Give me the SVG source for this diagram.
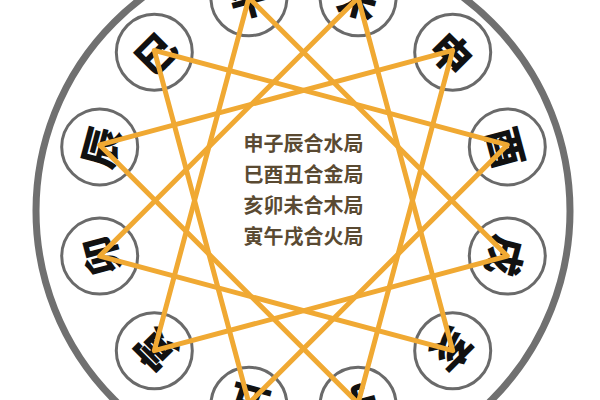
<svg xmlns="http://www.w3.org/2000/svg" width="600" height="400" viewBox="0 0 600 400">
  <style>
    .ring { fill: #ffffff; stroke: #707070; stroke-width: 7; }
    .node circle { fill: #ffffff; stroke: #6a6a6a; stroke-width: 3; }
    .node text { font-family: "Noto Sans CJK SC", "Noto Sans CJK TC", sans-serif; font-size: 40px; font-weight: 900; fill: #111111; text-anchor: middle; dominant-baseline: central; }
    .link { fill: none; stroke: #F0A933; stroke-width: 5; stroke-linejoin: round; stroke-linecap: round; }
    .legend text { font-family: "Noto Sans CJK SC", "Noto Sans CJK TC", sans-serif; font-size: 20px; font-weight: 700; fill: #5a4a32; text-anchor: middle; }
  </style>
  <rect width="600" height="400" fill="#ffffff"/>
  <circle class="ring" cx="303" cy="211" r="267"/>

  <g id="node-si" class="node"><circle cx="154.3" cy="52.3" r="38"/><text transform="translate(154.3 52.3) rotate(-45)">巳</text></g>
  <g id="node-wu" class="node"><circle cx="248.9" cy="-2.3" r="38"/><text transform="translate(248.9 -2.3) rotate(-15)">午</text></g>
  <g id="node-wei" class="node"><circle cx="358.1" cy="-2.3" r="38"/><text transform="translate(358.1 -2.3) rotate(15)">未</text></g>
  <g id="node-shen" class="node"><circle cx="452.7" cy="52.3" r="38"/><text transform="translate(452.7 52.3) rotate(45)">申</text></g>
  <g id="node-you" class="node"><circle cx="507.3" cy="146.9" r="38"/><text transform="translate(507.3 146.9) rotate(75)">酉</text></g>
  <g id="node-xu" class="node"><circle cx="507.3" cy="256.1" r="38"/><text transform="translate(507.3 256.1) rotate(105)">戌</text></g>
  <g id="node-hai" class="node"><circle cx="452.7" cy="350.7" r="38"/><text transform="translate(452.7 350.7) rotate(135)">亥</text></g>
  <g id="node-zi" class="node"><circle cx="358.1" cy="405.3" r="38"/><text transform="translate(358.1 405.3) rotate(165)">子</text></g>
  <g id="node-chou" class="node"><circle cx="248.9" cy="405.3" r="38"/><text transform="translate(248.9 405.3) rotate(195)">丑</text></g>
  <g id="node-yin" class="node"><circle cx="154.3" cy="350.7" r="38"/><text transform="translate(154.3 350.7) rotate(225)">寅</text></g>
  <g id="node-mao" class="node"><circle cx="99.7" cy="256.1" r="38"/><text transform="translate(99.7 256.1) rotate(255)">卯</text></g>
  <g id="node-chen" class="node"><circle cx="99.7" cy="146.9" r="38"/><text transform="translate(99.7 146.9) rotate(285)">辰</text></g>

  <g id="connectors">
    <polygon class="link" points="452.7,50.3 358.1,403.3 99.7,144.9"/>
    <polygon class="link" points="154.3,50.3 507.3,144.9 248.9,403.3"/>
    <polygon class="link" points="452.7,350.7 99.7,256.1 358.1,-2.3"/>
    <polygon class="link" points="154.3,350.7 248.9,-2.3 507.3,256.1"/>
  </g>

  <g id="legend" class="legend">
    <text x="303.5" y="151">申子辰合水局</text>
    <text x="303.5" y="182">巳酉丑合金局</text>
    <text x="303.5" y="213">亥卯未合木局</text>
    <text x="303.5" y="244">寅午戌合火局</text>
  </g>
</svg>
